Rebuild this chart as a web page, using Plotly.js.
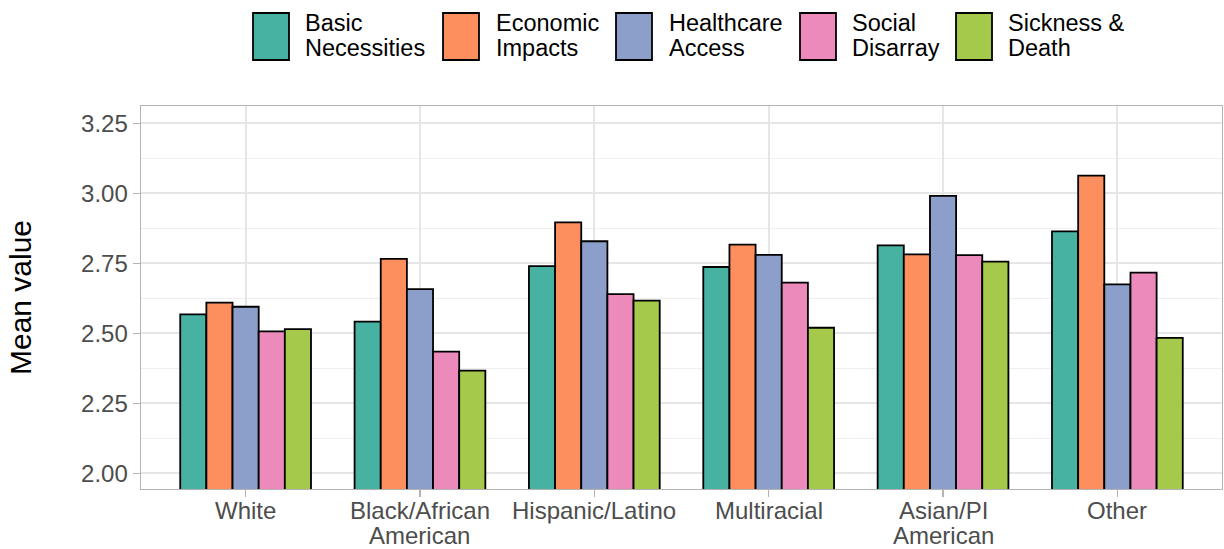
<!DOCTYPE html>
<html>
<head>
<meta charset="utf-8">
<script src="https://cdn.plot.ly/plotly-3.0.1.min.js"></script>
<style>html,body{margin:0;padding:0;background:#fff;}#chart{width:1224px;height:549px;}</style>
</head>
<body>
<div id="chart"></div>
<script>
// ---- data ----
const groups = ["White", "Black/African American", "Hispanic/Latino", "Multiracial", "Asian/PI American", "Other"];
const groupLine1 = ["White", "Black/African", "Hispanic/Latino", "Multiracial", "Asian/PI", "Other"];
const groupLine2 = ["", "American", "", "", "American", ""];
const seriesNames = ["Basic Necessities", "Economic Impacts", "Healthcare Access", "Social Disarray", "Sickness & Death"];
const legendLine1 = ["Basic", "Economic", "Healthcare", "Social", "Sickness &"];
const legendLine2 = ["Necessities", "Impacts", "Access", "Disarray", "Death"];
const basicNecessities = [2.568, 2.542, 2.740, 2.737, 2.814, 2.864];
const economicImpacts  = [2.610, 2.766, 2.896, 2.817, 2.782, 3.063];
const healthcareAccess = [2.595, 2.658, 2.829, 2.780, 2.991, 2.675];
const socialDisarray   = [2.507, 2.435, 2.640, 2.681, 2.779, 2.717];
const sicknessDeath    = [2.515, 2.367, 2.617, 2.520, 2.756, 2.484];
const yTickVals = [2.00, 2.25, 2.50, 2.75, 3.00, 3.25];
const yTickText = ["2.00", "2.25", "2.50", "2.75", "3.00", "3.25"];

const seriesValues = [basicNecessities, economicImpacts, healthcareAccess, socialDisarray, sicknessDeath];
const colors = ["#48b2a2", "#fd8f5e", "#8c9fca", "#ec8abb", "#a4c94b"];

// ---- layout geometry (pixels) ----
const W = 1224, H = 549;
const plotL = 141, plotR = 1222, plotT = 106, plotB = 489;
const pw = plotR - plotL, ph = plotB - plotT;
const px2paperX = p => (p - plotL) / pw;
const px2paperY = p => (plotB - p) / ph;
const FONT = "Liberation Sans, Arial, sans-serif";

const traces = seriesNames.map((name, i) => ({
  type: "bar",
  name: name,
  x: groups,
  y: seriesValues[i],
  marker: {color: colors[i], line: {color: "#000000", width: 1.8}},
  showlegend: false,
  hoverinfo: "x+y+name"
}));

// custom legend (tall keys like ggplot)
const boxLeft = [253, 443, 616, 800, 956];
const textLeft = [305, 496, 669, 852, 1008];
const shapes = [];
const annotations = [];
seriesNames.forEach((n, i) => {
  shapes.push({
    type: "rect", xref: "paper", yref: "paper",
    x0: px2paperX(boxLeft[i]), x1: px2paperX(boxLeft[i] + 36),
    y0: px2paperY(60), y1: px2paperY(13),
    fillcolor: colors[i], line: {color: "#000000", width: 1.8}
  });
  [legendLine1[i], legendLine2[i]].forEach((t, k) => {
    annotations.push({
      xref: "paper", yref: "paper", x: px2paperX(textLeft[i] - 2), y: px2paperY(k === 0 ? 22.5 : 48.5),
      xanchor: "left", yanchor: "middle", text: t, showarrow: false, height: 26,
      font: {family: FONT, size: 23.5, color: "#000000"}
    });
  });
});

// x category labels (two lines, tight spacing like ggplot)
groups.forEach((g, i) => {
  [groupLine1[i], groupLine2[i]].forEach((t, k) => {
    if (!t) return;
    annotations.push({
      xref: "x", yref: "paper", x: g, y: px2paperY(k === 0 ? 510.5 : 536),
      xanchor: "center", yanchor: "middle", text: t, showarrow: false, height: 25.5,
      font: {family: FONT, size: 24, color: "#4d4d4d"}
    });
  });
});

const layout = {
  width: W, height: H,
  margin: {l: plotL, r: W - plotR, t: plotT, b: H - plotB, pad: 0},
  paper_bgcolor: "#ffffff", plot_bgcolor: "#ffffff",
  barmode: "group", bargap: 0.25, bargroupgap: 0,
  font: {family: FONT, color: "#4d4d4d"},
  showlegend: false,
  xaxis: {
    type: "category", range: [-0.6, 5.6],
    showgrid: true, gridcolor: "#e6e6e6", gridwidth: 2,
    showline: true, mirror: true, linecolor: "#b3b3b3", linewidth: 1.4,
    ticks: "outside", ticklen: 7, tickwidth: 1.3, tickcolor: "#b3b3b3",
    showticklabels: false,
    zeroline: false, fixedrange: true
  },
  yaxis: {
    range: [1.944, 3.312],
    tickvals: yTickVals, ticktext: yTickText,
    showgrid: true, gridcolor: "#e6e6e6", gridwidth: 2,
    minor: {dtick: 0.125, showgrid: true, gridcolor: "#efefef", gridwidth: 1.2, ticks: ""},
    showline: true, mirror: true, linecolor: "#b3b3b3", linewidth: 1.4,
    ticks: "outside", ticklen: 7, tickwidth: 1.3, tickcolor: "#b3b3b3",
    tickfont: {size: 24, color: "#4d4d4d"},
    zeroline: false, fixedrange: true,
    title: {text: "Mean value", font: {size: 30, color: "#000000"}, standoff: 40}
  },
  shapes: shapes,
  annotations: annotations
};

Plotly.newPlot("chart", traces, layout, {displayModeBar: false, staticPlot: true});
</script>
</body>
</html>
